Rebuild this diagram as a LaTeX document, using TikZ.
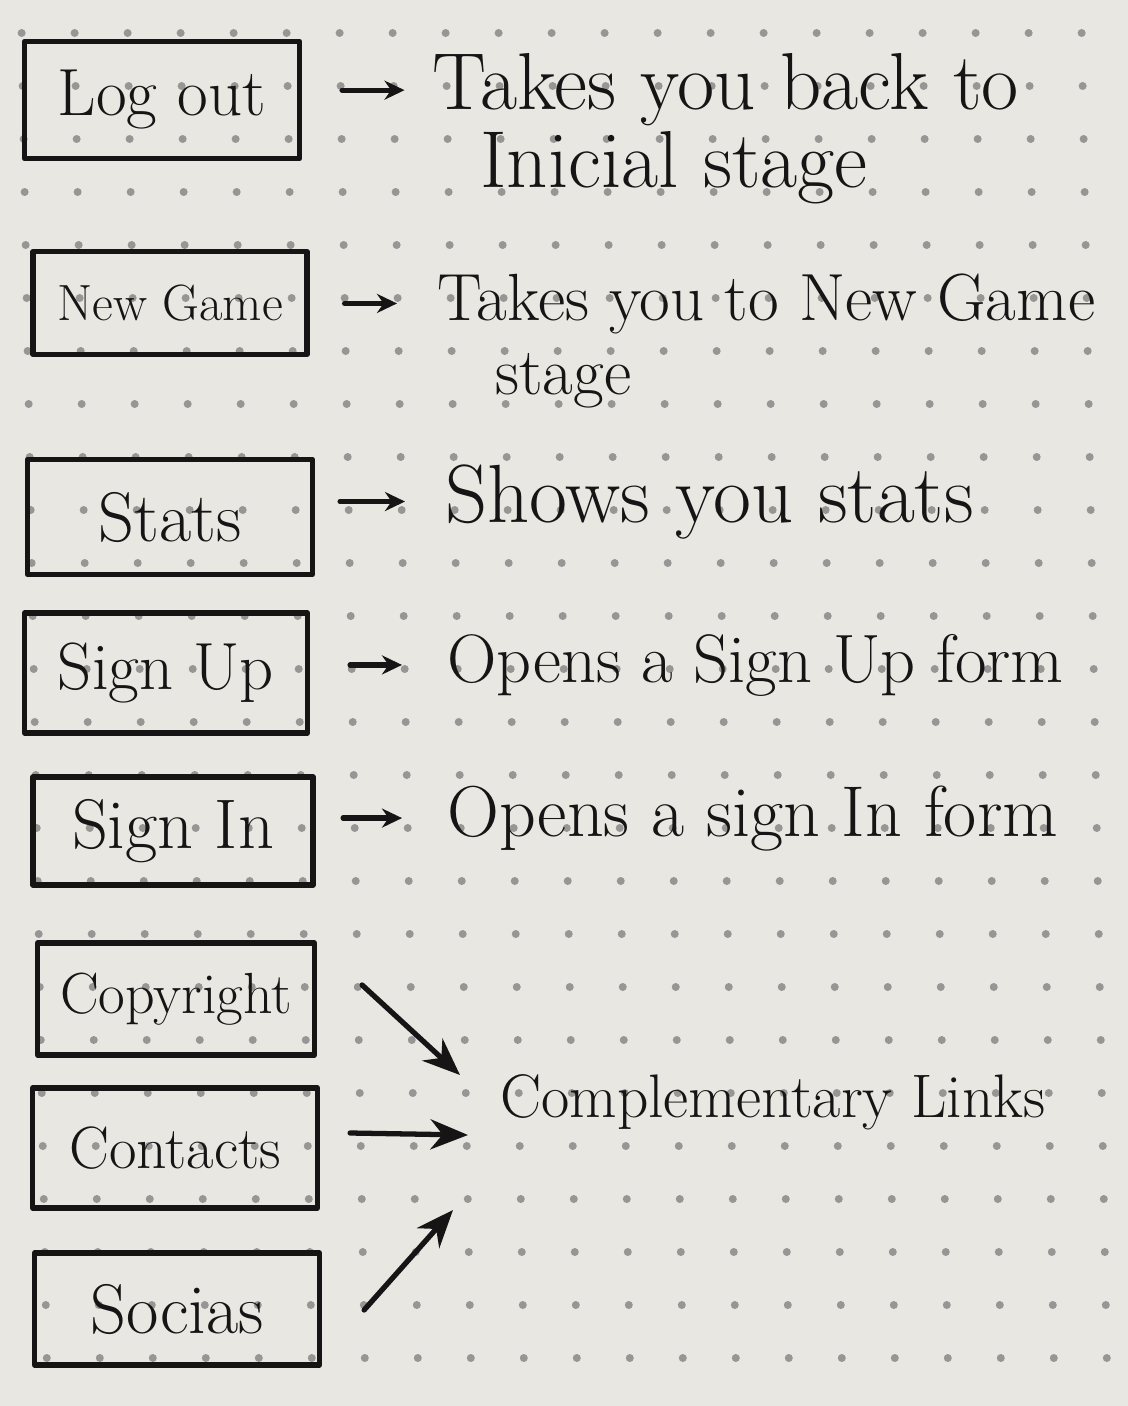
\documentclass[tikz,border=0pt]{standalone}
\usetikzlibrary{arrows.meta}
\definecolor{paper}{RGB}{232,231,226}
\definecolor{ink}{RGB}{22,20,20}
\definecolor{dotgray}{RGB}{150,150,148}
\tikzset{
  btn/.style={draw=ink, line width=3pt, line join=round, inner sep=0pt, text=ink},
  desc/.style={anchor=base west, text=ink, inner sep=0pt},
  arr/.style={draw=ink, line width=3pt, line cap=round, -{Stealth[length=0.4cm,width=0.38cm]}},
  bigarr/.style={draw=ink, line width=3pt, line cap=round, -{Stealth[length=0.75cm,width=0.6cm]}},
}
\begin{document}
\begin{tikzpicture}[x=0.02cm,y=-0.02cm]
\fill[paper] (0,0) rectangle (1128,1406);
\useasboundingbox (0,0) rectangle (1128,1406);
% dotted paper
\foreach \j in {0,...,25}
  \foreach \i in {0,...,21}
    \fill[dotgray] ({21+53*\i+0.019*(33+53*\j)},{33+53*\j}) circle (0.08cm);
% menu buttons
\node[btn, minimum width=5.5cm, minimum height=2.35cm, font=\fontsize{38}{44}\selectfont] (logout) at (162,100) {Log out};
\node[btn, minimum width=5.48cm, minimum height=2.06cm, font=\fontsize{29}{34}\selectfont] (newgame) at (170,303) {New Game};
\node[btn, minimum width=5.7cm, minimum height=2.3cm, font=\fontsize{40}{46}\selectfont] (stats) at (170,517) {Stats};
\node[btn, minimum width=5.66cm, minimum height=2.4cm, font=\fontsize{38}{44}\selectfont] (signup) at (166,673) {Sign Up};
\node[btn, minimum width=5.6cm, minimum height=2.16cm, font=\fontsize{40}{46}\selectfont] (signin) at (173,831) {Sign In};
\node[btn, minimum width=5.54cm, minimum height=2.24cm, font=\fontsize{33}{38}\selectfont] (copyright) at (176,999) {Copyright};
\node[btn, minimum width=5.7cm, minimum height=2.4cm, font=\fontsize{34}{40}\selectfont] (contacts) at (175,1148) {Contacts};
\node[btn, minimum width=5.7cm, minimum height=2.24cm, font=\fontsize{40}{46}\selectfont] (socias) at (177,1309) {Socias};
% what each button does
\node[desc, font=\fontsize{46}{52}\selectfont] (logoutdesc) at (432,110) {Takes you back to};
\node[desc, font=\fontsize{46}{52}\selectfont] (logoutdesc2) at (480,187) {Inicial stage};
\node[desc, font=\fontsize{38}{44}\selectfont] (newgamedesc) at (437,320) {Takes you to New Game};
\node[desc, font=\fontsize{38}{44}\selectfont] (newgamedesc2) at (495,394) {stage};
\node[desc, font=\fontsize{47}{52}\selectfont] (statsdesc) at (445,522) {Shows you stats};
\node[desc, font=\fontsize{39}{44}\selectfont] (signupdesc) at (447,682) {Opens a Sign Up form};
\node[desc, font=\fontsize{41}{46}\selectfont] (signindesc) at (447,836) {Opens a sign In form};
\node[desc, font=\fontsize{35}{42}\selectfont] (links) at (500,1117) {Complementary Links};
\coordinate (linkA) at (460,1075);
\coordinate (linkB) at (468,1135);
\coordinate (linkC) at (453,1210);
% arrows
\draw[arr, shorten <=0.8cm, shorten >=0.55cm] (logout.east |- logoutdesc.west) -- (logoutdesc.west);
\draw[arr, shorten <=0.7cm, shorten >=0.8cm] (newgame.east |- newgamedesc.west) -- (newgamedesc.west);
\draw[arr, shorten <=0.5cm, shorten >=0.8cm] (stats.east |- statsdesc.west) -- (statsdesc.west);
\draw[arr, shorten <=0.8cm, shorten >=0.9cm] (signup.east |- signupdesc.west) -- (signupdesc.west);
\draw[arr, shorten <=0.55cm, shorten >=0.9cm] (signin.east |- signindesc.west) -- (signindesc.west);
\draw[bigarr] ([shift={(45,-14)}]copyright.east) -- (linkA);
\draw[bigarr] ([shift={(30,-15)}]contacts.east) -- (linkB);
\draw[bigarr] ([shift={(42,1)}]socias.east) -- (linkC);
\end{tikzpicture}
\end{document}
